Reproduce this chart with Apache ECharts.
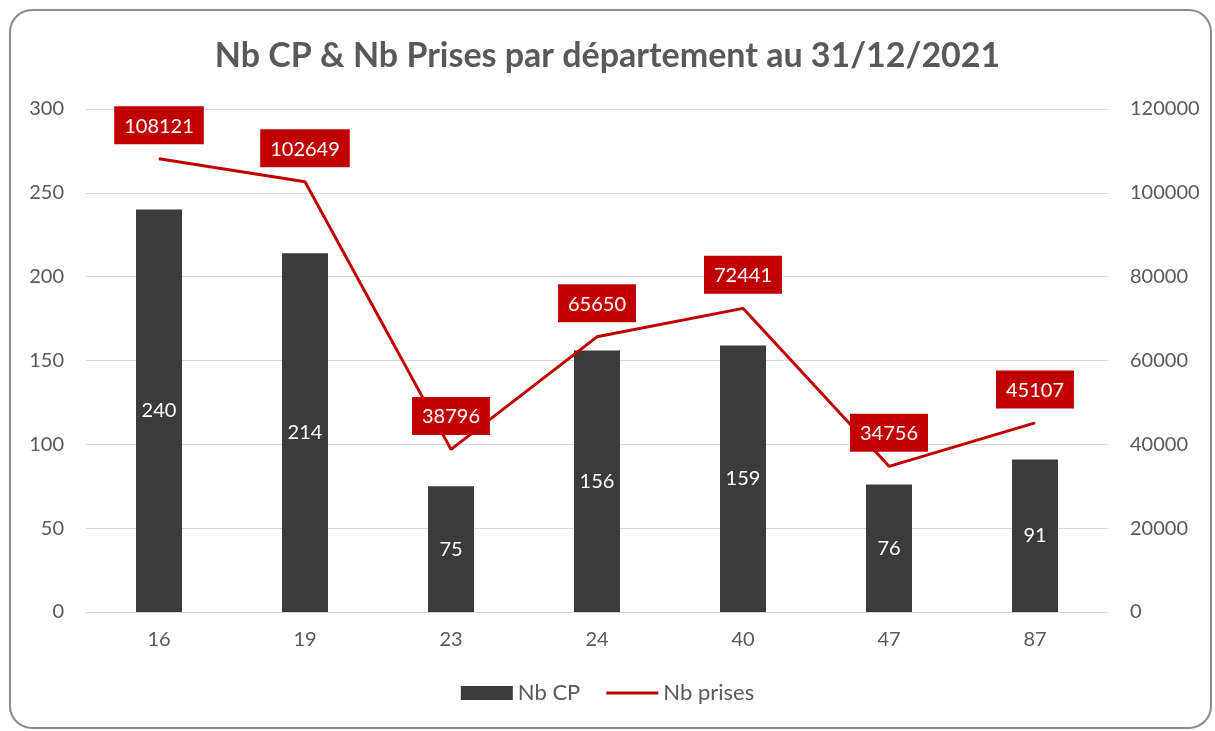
<!DOCTYPE html>
<html>
<head>
<meta charset="utf-8">
<script src="https://cdn.jsdelivr.net/npm/echarts@6/dist/echarts.min.js"></script>
<style>
  html, body { margin: 0; padding: 0; background: #fff; }
  #chart { width: 1215px; height: 731px; }
</style>
</head>
<body>
<div id="chart"></div>
<script>
var departements = ["16", "19", "23", "24", "40", "47", "87"];
var nbCP = [240, 214, 75, 156, 159, 76, 91];
var nbPrises = [108121, 102649, 38796, 65650, 72441, 34756, 45107];

var textGray = "#595959";
var font = "Lato";

var myChart = echarts.init(document.getElementById("chart"));
var option = {
    backgroundColor: "#fff",
    textStyle: { fontFamily: font },
    graphic: [
        {
            type: "rect",
            shape: { x: 10, y: 10, width: 1201, height: 718, r: 22 },
            style: { fill: "none", stroke: "#8c8c8c", lineWidth: 2 },
            z: -1
        }
    ],
    title: {
        text: "Nb CP & Nb Prises par département au 31/12/2021",
        left: "center",
        top: 34,
        textStyle: { fontFamily: font, fontSize: 34, fontWeight: "bold", color: textGray }
    },
    legend: {
        bottom: 22,
        left: "center",
        itemGap: 26,
        itemWidth: 52,
        itemHeight: 14,
        textStyle: { fontFamily: font, fontSize: 22, color: textGray },
        data: [
            { name: "Nb CP", icon: "rect" },
            { name: "Nb prises", icon: "path://M0,0H52V3H0Z" }
        ]
    },
    grid: { left: 86, right: 107, top: 109, bottom: 119, containLabel: false },
    xAxis: {
        type: "category",
        data: departements,
        axisLine: { lineStyle: { color: "#d9d9d9", width: 1 } },
        axisTick: { show: false },
        axisLabel: { fontFamily: font, fontSize: 20, color: textGray, margin: 18 }
    },
    yAxis: [
        {
            type: "value",
            min: 0, max: 300, interval: 50,
            axisLine: { show: false },
            axisTick: { show: false },
            splitLine: { lineStyle: { color: "#d9d9d9", width: 1 } },
            axisLabel: { fontFamily: font, fontSize: 20, color: textGray, margin: 22 }
        },
        {
            type: "value",
            min: 0, max: 120000, interval: 20000,
            axisLine: { show: false },
            axisTick: { show: false },
            splitLine: { show: false },
            axisLabel: {
                fontFamily: font, fontSize: 20, color: textGray, margin: 22,
                formatter: function (v) { return String(v); }
            }
        }
    ],
    series: [
        {
            name: "Nb CP",
            type: "bar",
            data: nbCP,
            barWidth: 46,
            itemStyle: { color: "#3b3b3b" },
            label: {
                show: true,
                position: "inside",
                fontFamily: font,
                fontSize: 20,
                color: "#fff"
            }
        },
        {
            name: "Nb prises",
            type: "line",
            yAxisIndex: 1,
            data: nbPrises,
            showSymbol: true,
            symbol: "circle",
            symbolSize: 1,
            lineStyle: { color: "#c00000", width: 3 },
            itemStyle: { color: "#c00000" },
            label: {
                show: true,
                position: "top",
                distance: 14,
                fontFamily: font,
                fontSize: 20,
                color: "#fff",
                backgroundColor: "#c00000",
                padding: [10, 10, 8, 10]
            }
        }
    ]
};
myChart.setOption(option);
</script>
</body>
</html>
